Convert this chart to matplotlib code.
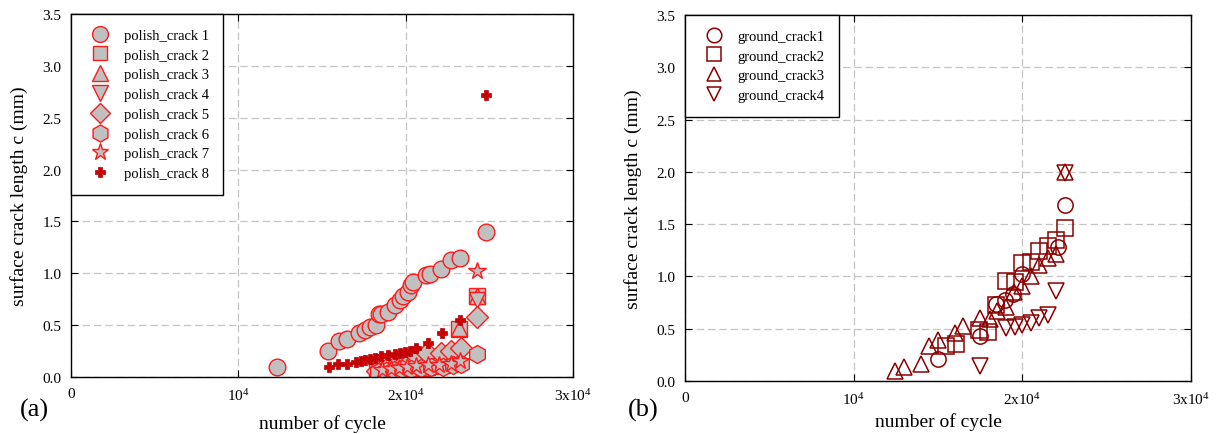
import matplotlib
matplotlib.use("Agg")
import matplotlib.pyplot as plt

plt.rcParams['font.family'] = ['Liberation Serif', 'DejaVu Serif']
plt.rcParams['mathtext.fontset'] = 'custom'
plt.rcParams['mathtext.rm'] = 'Liberation Serif'

# panel (a): polished specimens, cycles vs surface crack length (mm)
p1_n = [12300, 15360, 16020, 16500, 17210, 17550, 17850, 18210, 18400, 18550, 18950, 19340,
        19640, 19840, 20140, 20340, 20440, 21240, 21430, 22130, 22730, 23220, 24820]
p1_c = [0.10, 0.25, 0.35, 0.37, 0.42, 0.45, 0.48, 0.50, 0.61, 0.61, 0.63, 0.69,
        0.74, 0.78, 0.82, 0.89, 0.92, 0.98, 0.99, 1.04, 1.13, 1.15, 1.40]
p2_n = [18300, 18700, 19200, 19700, 20200, 20700, 21300, 22200, 23200, 24250]
p2_c = [0.05, 0.06, 0.06, 0.07, 0.08, 0.09, 0.10, 0.12, 0.46, 0.78]
p3_n = [18400, 18900, 19400, 19900, 20400, 20900, 21500, 22300, 23200, 24250]
p3_c = [0.04, 0.05, 0.06, 0.07, 0.08, 0.09, 0.11, 0.13, 0.47, 0.78]
p4_n = [18500, 19000, 19500, 20000, 20500, 21000, 21600, 22400, 24250]
p4_c = [0.05, 0.06, 0.07, 0.07, 0.08, 0.10, 0.11, 0.13, 0.74]
p5_n = [18300, 18800, 19300, 19800, 20300, 20650, 21270, 22130, 22730, 23330, 24250]
p5_c = [0.06, 0.08, 0.10, 0.12, 0.15, 0.20, 0.23, 0.23, 0.25, 0.28, 0.58]
p6_n = [18350, 18800, 19300, 19800, 20300, 20900, 21500, 22230, 22800, 23300, 24250]
p6_c = [0.05, 0.06, 0.07, 0.08, 0.08, 0.09, 0.10, 0.10, 0.12, 0.13, 0.22]
p7_n = [18600, 19100, 19600, 20100, 20600, 21330, 22000, 22730, 23220, 24260]
p7_c = [0.07, 0.08, 0.09, 0.10, 0.11, 0.12, 0.12, 0.13, 0.15, 1.02]
p8_n = [15400, 15960, 16500, 17060, 17350, 17550, 17850, 18150, 18550, 18950, 19340, 19640,
        19940, 20240, 20600, 21330, 22200, 23220, 24820]
p8_c = [0.10, 0.13, 0.13, 0.14, 0.15, 0.16, 0.17, 0.18, 0.20, 0.21, 0.22, 0.23,
        0.24, 0.25, 0.28, 0.33, 0.42, 0.55, 2.72]

# panel (b): ground specimens
g1_n = [15000, 17470, 18460, 18960, 19440, 20000, 22100, 22510]
g1_c = [0.21, 0.43, 0.74, 0.77, 0.83, 1.02, 1.28, 1.68]
g2_n = [15500, 16050, 17440, 17970, 18460, 19010, 19550, 20000, 20530, 20980, 21520, 22020, 22510]
g2_c = [0.33, 0.35, 0.49, 0.47, 0.73, 0.96, 0.95, 1.13, 1.14, 1.24, 1.29, 1.35, 1.46]
g3_n = [12430, 12960, 14010, 14470, 15000, 15990, 16480, 17470, 18060, 18500, 19010, 19490,
        20000, 20530, 20980, 21520, 22020, 22510]
g3_c = [0.10, 0.13, 0.16, 0.33, 0.39, 0.46, 0.53, 0.60, 0.59, 0.67, 0.71, 0.85,
        0.91, 1.00, 1.11, 1.18, 1.21, 2.00]
g4_n = [17470, 19010, 19550, 20000, 20530, 20980, 21520, 22020, 22510]
g4_c = [0.14, 0.51, 0.52, 0.54, 0.55, 0.60, 0.63, 0.86, 1.99]

x_ticks = [0, 10000, 20000, 30000]
x_labels = ['0', r'$\mathregular{10^4}$', r'2x$\mathregular{10^4}$', r'3x$\mathregular{10^4}$']
y_ticks = [0.0, 0.5, 1.0, 1.5, 2.0, 2.5, 3.0, 3.5]

fig = plt.figure(figsize=(12.21, 4.35), dpi=100)
ax1 = fig.add_axes([71 / 1221, 1 - 378 / 435, 502 / 1221, 363 / 435])
ax2 = fig.add_axes([685 / 1221, 1 - 382 / 435, 506 / 1221, 366 / 435])

# polish series: grey fill, red edge (the plus one is solid dark red)
polish = [(p1_n, p1_c, 'o', 12, 'polish_crack 1'), (p2_n, p2_c, 's', 11, 'polish_crack 2'),
          (p3_n, p3_c, '^', 12, 'polish_crack 3'), (p4_n, p4_c, 'v', 12, 'polish_crack 4'),
          (p5_n, p5_c, 'D', 11, 'polish_crack 5'), (p6_n, p6_c, 'h', 13, 'polish_crack 6'),
          (p7_n, p7_c, '*', 13, 'polish_crack 7')]
for n, c, m, ms, lab in polish:
    ax1.plot(n, c, ls='none', marker=m, ms=ms, mfc='#c0c0c0', mec='#ff1a1a', mew=1.0, label=lab)
ax1.plot(p8_n, p8_c, ls='none', marker='P', ms=7, mfc='#cc0000', mec='#b00000', mew=0.5,
         label='polish_crack 8')

ground = [(g1_n, g1_c, 'o', 'ground_crack1'), (g2_n, g2_c, 's', 'ground_crack2'),
          (g3_n, g3_c, '^', 'ground_crack3'), (g4_n, g4_c, 'v', 'ground_crack4')]
for n, c, m, lab in ground:
    ax2.plot(n, c, ls='none', marker=m, ms=11, mfc='none', mec='#8b0000', mew=1.1, label=lab)

for ax, xpad in [(ax1, 8), (ax2, 4)]:
    ax.set_xlim(0, 30000)
    ax.set_ylim(0, 3.5)
    ax.set_xticks(x_ticks)
    ax.set_xticklabels(x_labels)
    ax.set_yticks(y_ticks)
    ax.set_yticklabels(['%.1f' % v for v in y_ticks])
    ax.tick_params(direction='in', length=5, labelsize=11, top=True, right=True)
    ax.tick_params(axis='x', pad=7)
    ax.tick_params(axis='y', pad=7)
    ax.grid(True, color='#c4c4c4', ls=(0, (6, 3)), lw=0.9)
    ax.set_axisbelow(True)
    for s in ax.spines.values():
        s.set_linewidth(1.0)
    ax.set_xlabel('number of cycle', fontsize=14, labelpad=xpad)
    ax.set_ylabel('surface crack length c (mm)', fontsize=14, labelpad=10)
    leg = ax.legend(loc='upper left', borderaxespad=0, fancybox=False, edgecolor='black',
                    framealpha=1, fontsize=10.5, handletextpad=0.6, borderpad=1.0,
                    labelspacing=0.45, handlelength=2.0, markerscale=0.95)
    leg.get_frame().set_linewidth(1.0)

fig.text(20 / 1221, 1 - 410 / 435, '(a)', fontsize=19, va='center', ha='left')
fig.text(628 / 1221, 1 - 410 / 435, '(b)', fontsize=19, va='center', ha='left')

fig.savefig('out.png', dpi=100)
